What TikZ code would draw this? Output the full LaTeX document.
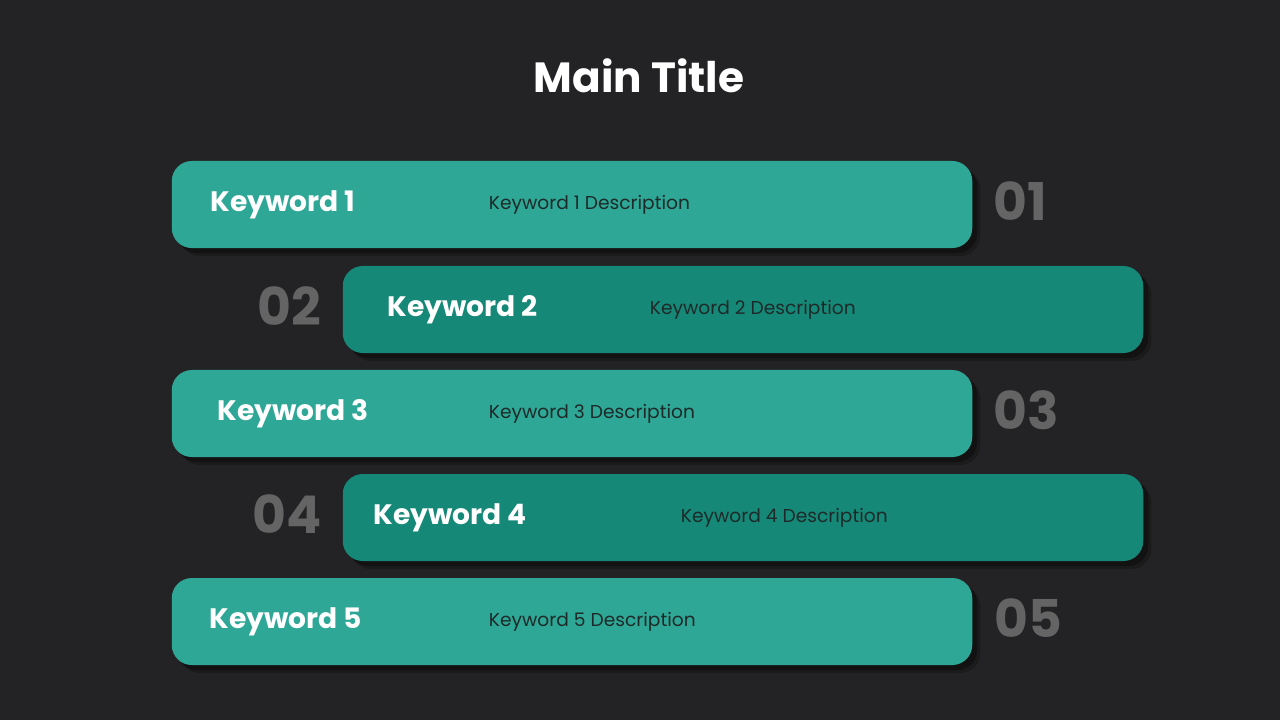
\documentclass[tikz,border=0pt]{standalone}
\usepackage{fontspec}
\setmainfont{Poppins}
\usetikzlibrary{shadows, positioning}
\definecolor{BgGray}{HTML}{232224}
\definecolor{LightTeal}{HTML}{2EA796}
\definecolor{DarkTeal}{HTML}{168877}
\definecolor{NumGray}{HTML}{646464}
\definecolor{DescInk}{HTML}{1D2A29}

\tikzset{
    bar/.style={rounded corners=5.7pt, minimum width=8cm, minimum height=0.87cm,
        inner sep=0pt,
        drop shadow={shadow xshift=0.08cm, shadow yshift=-0.08cm, opacity=0.2, fill=black},
        drop shadow={shadow xshift=0.05cm, shadow yshift=-0.05cm, opacity=0.3, fill=black}},
    kwtext/.style={inner sep=0pt, text=white, font=\fontsize{8}{10}\selectfont\bfseries},
    desctext/.style={inner sep=0pt, text=DescInk, font=\fontsize{5.3}{7}\selectfont},
    numtext/.style={inner sep=0pt, text=NumGray, font=\fontsize{14.8}{17}\selectfont\bfseries}
}

\begin{document}
\begin{tikzpicture}[x=0.01cm, y=-0.01cm]

    % background
    \fill[BgGray] (0,0) rectangle (1280,720);
    \useasboundingbox (0,0) rectangle (1280,720);

    % title
    \node[text=white, font=\fontsize{12}{14}\selectfont\bfseries] (title) at (639,76) {Main Title};

    % bars
    \node[bar, fill=LightTeal] (bar1) at (572,204.5) {};
    \node[bar, fill=DarkTeal]  (bar2) at (743,309.5) {};
    \node[bar, fill=LightTeal] (bar3) at (572,413.5) {};
    \node[bar, fill=DarkTeal]  (bar4) at (743,517.5) {};
    \node[bar, fill=LightTeal] (bar5) at (572,621.5) {};

    % keywords
    \node[kwtext, right=0.39cm of bar1.west] (kw1) {Keyword 1};
    \node[kwtext, right=0.45cm of bar2.west] (kw2) {Keyword 2};
    \node[kwtext, right=0.46cm of bar3.west] (kw3) {Keyword 3};
    \node[kwtext, right=0.31cm of bar4.west] (kw4) {Keyword 4};
    \node[kwtext, right=0.38cm of bar5.west] (kw5) {Keyword 5};

    % descriptions
    \node[desctext, right=3.17cm of bar1.west] (desc1) {Keyword 1 Description};
    \node[desctext, right=3.07cm of bar2.west] (desc2) {Keyword 2 Description};
    \node[desctext, right=3.17cm of bar3.west] (desc3) {Keyword 3 Description};
    \node[desctext, right=3.38cm of bar4.west] (desc4) {Keyword 4 Description};
    \node[desctext, right=3.17cm of bar5.west] (desc5) {Keyword 5 Description};

    % numbers
    \node[numtext, right=0.2cm of bar1.east, yshift=0.03cm] (num1) {01};
    \node[numtext, left=0.2cm of bar2.west, yshift=0.03cm]  (num2) {02};
    \node[numtext, right=0.2cm of bar3.east, yshift=0.03cm] (num3) {03};
    \node[numtext, left=0.2cm of bar4.west, yshift=0.03cm]  (num4) {04};
    \node[numtext, right=0.21cm of bar5.east, yshift=0.03cm] (num5) {05};

\end{tikzpicture}
\end{document}
